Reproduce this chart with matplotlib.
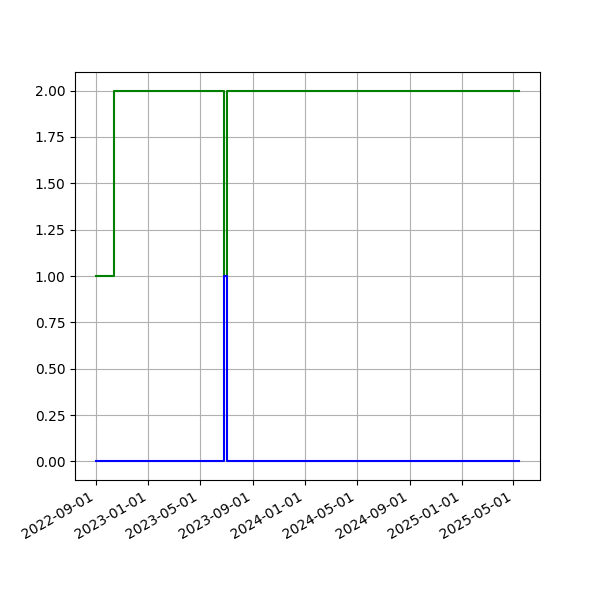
import pandas as pd
import matplotlib
matplotlib.use('Agg')
import matplotlib.pyplot as plt
import matplotlib.dates as mdates

# change points of the two step series
dates = pd.to_datetime(['2022-09-01', '2022-10-13', '2023-06-27', '2023-07-03', '2025-05-14'])
green_vals = [1, 2, 1, 2, 2]
blue_vals = [0, 0, 1, 0, 0]

fig, ax = plt.subplots(figsize=(6, 6), dpi=100)
ax.plot(dates, green_vals, color='green', drawstyle='steps-post')
ax.plot(dates, blue_vals, color='blue', drawstyle='steps-post')

ax.xaxis.set_major_locator(mdates.MonthLocator(bymonth=[1, 5, 9]))
ax.xaxis.set_major_formatter(mdates.DateFormatter('%Y-%m-%d'))
ax.grid(True)
fig.autofmt_xdate()

plt.savefig('out.png')
